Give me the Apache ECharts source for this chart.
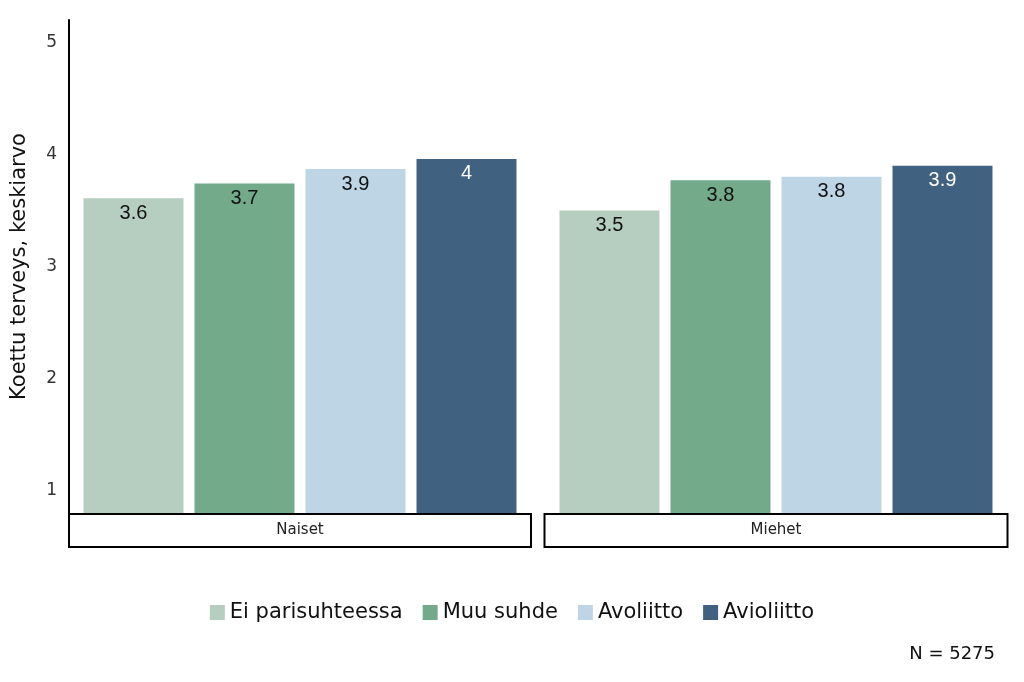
<!DOCTYPE html>
<html>
<head>
<meta charset="utf-8">
<script src="https://cdn.jsdelivr.net/npm/echarts@6/dist/echarts.min.js"></script>
<style>
html,body{margin:0;padding:0;background:#fff;}
#chart{width:1024px;height:682px;}
</style>
</head>
<body>
<div id="chart"></div>
<script>
const categories = ['Ei parisuhteessa', 'Muu suhde', 'Avoliitto', 'Avioliitto'];
const panels = ['Naiset', 'Miehet'];
const naisetValues = [3.61, 3.74, 3.87, 3.96];
const miehetValues = [3.50, 3.77, 3.80, 3.90];
const yTickLabels = [1, 2, 3, 4, 5];
const yTitle = 'Koettu terveys, keskiarvo';
const noteText = 'N = 5275';

const colors = ['#b5cec0', '#72aa8a', '#bed5e5', '#406280'];
const labelColors = ['#111', '#111', '#111', '#fff'];
const panelValues = [naisetValues, miehetValues];
const FONT = 'DejaVu Sans';

const chart = echarts.init(document.getElementById('chart'));

const grids = [
  { left: 69, width: 462, top: 20, bottom: 169 },
  { left: 544, right: 16, top: 20, bottom: 169 }
];

const xAxes = panels.map((p, i) => ({
  type: 'category',
  gridIndex: i,
  data: [p],
  axisLine: { show: false },
  axisTick: { show: false },
  axisLabel: {
    margin: 2,
    fontFamily: FONT,
    fontSize: 15,
    color: '#222',
    width: i === 0 ? 460 : 461,
    height: 31,
    lineHeight: 31,
    align: 'center',
    borderColor: '#000',
    borderWidth: 2,
    backgroundColor: '#fff'
  }
}));

const yAxes = panels.map((p, i) => ({
  type: 'value',
  gridIndex: i,
  min: 0.8,
  max: 5.2,
  interval: 0.2,
  splitLine: { show: false },
  axisTick: { show: false },
  axisLine: { show: i === 0, lineStyle: { color: '#000', width: 2 } },
  axisLabel: {
    show: i === 0,
    margin: 12,
    fontFamily: FONT,
    fontSize: 17,
    color: '#333',
    showMinLabel: true,
    showMaxLabel: true,
    formatter: v => {
      const r = Math.round(v);
      return (Math.abs(v - r) < 1e-6 && yTickLabels.includes(r)) ? String(r) : '';
    }
  },
  name: i === 0 ? yTitle : '',
  nameLocation: 'middle',
  nameGap: 39,
  nameTextStyle: { fontFamily: FONT, fontSize: 21, color: '#111' }
}));

const series = [];
panels.forEach((p, pi) => {
  categories.forEach((c, ci) => {
    series.push({
      type: 'bar',
      name: c,
      xAxisIndex: pi,
      yAxisIndex: pi,
      data: [panelValues[pi][ci]],
      barWidth: 100,
      barGap: '11%',
      itemStyle: { color: colors[ci] },
      label: {
        show: true,
        position: 'insideTop',
        distance: 5,
        fontFamily: 'Liberation Sans',
        fontSize: 20,
        color: labelColors[ci],
        formatter: prm => String(Math.round(prm.value * 10) / 10)
      }
    });
  });
});

chart.setOption({
  animation: false,
  backgroundColor: '#fff',
  color: colors,
  grid: grids,
  xAxis: xAxes,
  yAxis: yAxes,
  legend: {
    data: categories,
    top: 597,
    left: 'center',
    itemWidth: 15,
    itemHeight: 15,
    itemGap: 20,
    icon: 'rect',
    textStyle: { fontFamily: FONT, fontSize: 21, color: '#111' }
  },
  title: {
    text: noteText,
    right: 24,
    top: 640,
    textStyle: { fontFamily: FONT, fontSize: 18, fontWeight: 'normal', color: '#111' }
  },
  series: series
});
</script>
</body>
</html>
